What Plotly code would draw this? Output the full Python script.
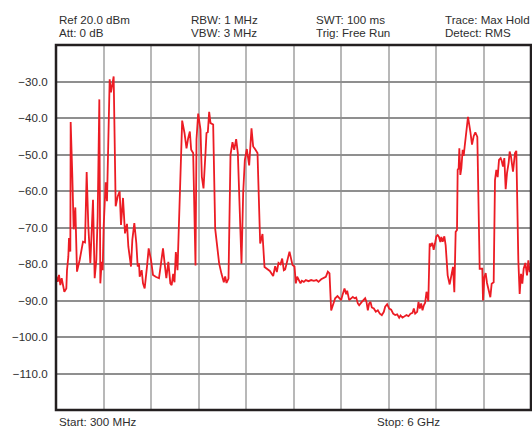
import plotly.graph_objects as go

# Spectrum trace: frequency (MHz) and level (dBm)
freq_mhz = [
    300, 320, 336, 352, 368, 384, 400, 424, 432, 448, 456, 472, 476, 496, 512, 532, 552, 584, 624, 648,
    668, 688, 712, 744, 764, 784, 800, 820, 832, 848, 860, 872, 896, 912, 944, 960, 976, 992, 1016, 1040,
    1064, 1080, 1104, 1128, 1152, 1168, 1200, 1216, 1240, 1264, 1280, 1296, 1304, 1328, 1344, 1364, 1392,
    1412, 1440, 1464, 1496, 1536, 1560, 1584, 1608, 1624, 1648, 1672, 1688,
    1706, 1722, 1738, 1758, 1806, 1814, 1842, 1866, 1886, 1906, 1922, 1946, 1974, 1986, 2006, 2034, 2050,
    2070, 2094, 2106, 2122, 2138, 2154, 2186, 2210, 2234, 2258, 2286, 2314, 2330, 2346, 2370, 2394, 2418,
    2438, 2462, 2482, 2506, 2526, 2546, 2566, 2590, 2618, 2646, 2666, 2694, 2718, 2750, 2778, 2802, 2834,
    2866, 2906, 2930, 2950, 2970, 2994, 3014, 3034,
    3050, 3102, 3122, 3138, 3162, 3178, 3194, 3218, 3234, 3250, 3274, 3298, 3330, 3362, 3394, 3426, 3450,
    3482, 3510, 3538, 3562, 3582, 3602, 3622, 3650, 3678, 3702, 3722, 3738, 3762, 3782, 3794, 3818, 3842,
    3862, 3882, 3902, 3922, 3938, 3970, 3994, 4010, 4026, 4042, 4058, 4074, 4090, 4114, 4138, 4162, 4186,
    4210, 4234, 4250, 4274, 4298, 4322, 4346, 4370, 4394, 4418, 4434, 4458, 4482, 4506, 4530, 4554, 4578,
    4594, 4610, 4634, 4650, 4666, 4682, 4698, 4714, 4730, 4746, 4762,
    4768, 4784, 4800, 4816, 4832, 4848, 4864, 4880, 4896, 4912, 4924, 4940, 4960, 4976, 5000, 5024, 5044,
    5064, 5080, 5096, 5112, 5120, 5132, 5140, 5152, 5164, 5180, 5192, 5204, 5224, 5244, 5272, 5292, 5312,
    5332, 5356, 5372, 5384, 5416, 5424, 5440, 5456, 5472, 5492, 5512, 5528, 5552, 5568, 5584, 5600, 5616,
    5636, 5648, 5664, 5680, 5696, 5712, 5732, 5744, 5760, 5784, 5808, 5824, 5848, 5864, 5880, 5896, 5912,
    5932, 5952, 5968, 5984, 6000,
]
level_dbm = [
    -83.0, -84.9, -83.0, -85.8, -83.9, -86.2, -87.6, -86.7, -81.7, -78.0, -72.9, -76.6, -41.1, -56.0, -70.5, -64.5, -82.1, -78.9, -73.9, -74.1,
    -54.8, -69.7, -79.8, -62.4, -83.9, -78.9, -67.0, -34.9, -85.3, -79.4, -81.7, -69.7, -57.6, -62.8, -29.4, -33.0, -31.2, -28.6, -64.2, -61.5,
    -60.1, -69.3, -61.9, -71.6, -69.0, -75.2, -80.7, -73.4, -68.8, -74.3, -80.7, -79.8, -83.5, -81.7, -85.3, -86.7, -80.7,
    -75.7, -78.9, -83.0, -83.5, -83.9, -79.8, -75.7, -80.7, -83.9, -79.4, -85.3, -85.8,
    -82.7, -85.0, -76.7, -81.7, -40.9, -40.7, -44.1, -48.3, -45.5, -43.7, -48.7, -49.6, -80.4, -45.8, -38.8, -43.2, -56.1,
    -59.3, -49.6, -44.1, -43.9, -38.3, -41.4, -41.8, -70.3, -74.4, -79.9, -82.7, -85.0, -83.4, -85.2, -84.0, -50.1, -46.6,
    -48.7, -45.8, -49.6, -66.1, -79.9, -60.6, -51.5, -48.5, -53.0, -42.8, -47.8, -48.7, -49.6, -74.4, -71.8, -80.8, -81.3,
    -81.9, -83.3, -80.6, -82.2, -79.7, -80.1, -78.5, -81.7,
    -81.5, -76.6, -78.4, -80.3, -80.7, -85.3, -83.5, -84.4, -85.3, -84.6, -84.9, -84.4, -84.7, -84.4, -84.6, -84.4, -84.9,
    -84.2, -83.9, -83.5, -82.1, -82.6, -92.7, -91.3, -89.4, -88.8, -89.4, -89.9, -88.5, -86.7, -88.3, -87.3, -89.9, -89.4,
    -89.0, -89.4, -89.2, -90.8, -91.3, -90.4, -89.9, -89.4, -90.4, -92.7, -90.8, -90.4, -91.9, -92.2, -93.1, -92.7, -93.6,
    -94.0, -93.1, -91.7, -91.0, -92.2, -92.5, -93.6, -94.0, -93.8, -94.7, -94.1, -94.7, -94.3, -94.0, -94.3, -93.6, -93.4,
    -92.2, -93.6, -93.1, -90.4, -92.2, -90.8, -92.7, -91.3, -90.6, -87.6, -89.9,
    -90.2, -74.4, -74.9, -74.2, -76.1, -74.4, -72.4, -72.1, -72.6, -74.0, -72.6, -73.9, -72.4, -74.9, -83.1, -85.6, -82.7,
    -80.8, -87.7, -71.2, -70.7, -54.2, -53.8, -48.3, -55.6, -53.8, -48.7, -50.4, -47.8, -43.2, -39.7, -43.7, -47.3, -45.0,
    -43.9, -45.2, -63.4, -81.3, -81.3, -90.0, -83.6, -82.5, -85.2, -86.8, -89.1, -85.4, -85.0, -57.0, -54.2, -56.2, -51.5,
    -51.0, -51.7, -53.3, -51.0, -59.5, -55.1, -52.2, -49.2, -50.6, -54.7, -49.6, -49.0, -79.0, -88.2, -82.7, -85.4, -81.3,
    -79.7, -83.1, -79.0, -82.2, -80.8,
]

y_tick_vals = [-30, -40, -50, -60, -70, -80, -90, -100, -110]
y_tick_text = ["\u221230.0", "\u221240.0", "\u221250.0", "\u221260.0", "\u221270.0",
               "\u221280.0", "\u221290.0", "\u2212100.0", "\u2212110.0"]

header_texts = [
    ("Ref 20.0 dBm", "Att: 0 dB"),
    ("RBW: 1 MHz", "VBW: 3 MHz"),
    ("SWT: 100 ms", "Trig: Free Run"),
    ("Trace: Max Hold", "Detect: RMS"),
]
start_label = "Start: 300 MHz"
stop_label = "Stop: 6 GHz"

W, H = 532, 428
L, R, T, B = 56, 1, 45, 18
pw, ph = W - L - R, H - T - B

def px(x):
    return (x - L) / pw

def py(y):
    return (H - B - y) / ph

FONT = "Liberation Sans"
FS = 11.6
TXT = "#2e2e2e"

fig = go.Figure(go.Scatter(
    x=freq_mhz, y=level_dbm, mode="lines",
    line=dict(color="#ec1c24", width=1.8), hoverinfo="skip",
))

annotations = []
header_x = [57, 189, 314, 443]
for hx, (l1, l2) in zip(header_x, header_texts):
    for txt, yy in ((l1, 19.5), (l2, 32.5)):
        annotations.append(dict(x=px(hx), y=py(yy), xref="paper", yref="paper", text=txt,
                                showarrow=False, xanchor="left", yanchor="middle",
                                font=dict(family=FONT, size=FS, color=TXT)))
annotations.append(dict(x=px(57), y=py(421), xref="paper", yref="paper", text=start_label,
                        showarrow=False, xanchor="left", yanchor="middle",
                        font=dict(family=FONT, size=FS, color=TXT)))
annotations.append(dict(x=px(375), y=py(421), xref="paper", yref="paper", text=stop_label,
                        showarrow=False, xanchor="left", yanchor="middle",
                        font=dict(family=FONT, size=FS, color=TXT)))

fig.update_layout(
    width=W, height=H,
    margin=dict(l=L, r=R, t=T, b=B, pad=0),
    paper_bgcolor="white", plot_bgcolor="white",
    showlegend=False,
    xaxis=dict(range=[300, 6000], tick0=300, dtick=570, showticklabels=False,
               showgrid=True, gridcolor="#b8b8b8", gridwidth=1.5,
               zeroline=False, showline=False, ticks=""),
    yaxis=dict(range=[-120, -20], tickvals=y_tick_vals, ticktext=y_tick_text,
               showgrid=True, gridcolor="#8f8f8f", gridwidth=1.5,
               zeroline=False, showline=False,
               ticks="outside", ticklen=5, tickcolor="rgba(0,0,0,0)",
               tickfont=dict(family=FONT, size=FS, color=TXT)),
    annotations=annotations,
    shapes=[dict(type="rect", xref="paper", yref="paper", x0=0, x1=1, y0=0, y1=1,
                 line=dict(color="#231f20", width=2.5), layer="above")],
)

fig.write_html("out.html", config={"displayModeBar": False},
               post_script="document.body.style.margin='0px';document.body.style.overflow='hidden';")
